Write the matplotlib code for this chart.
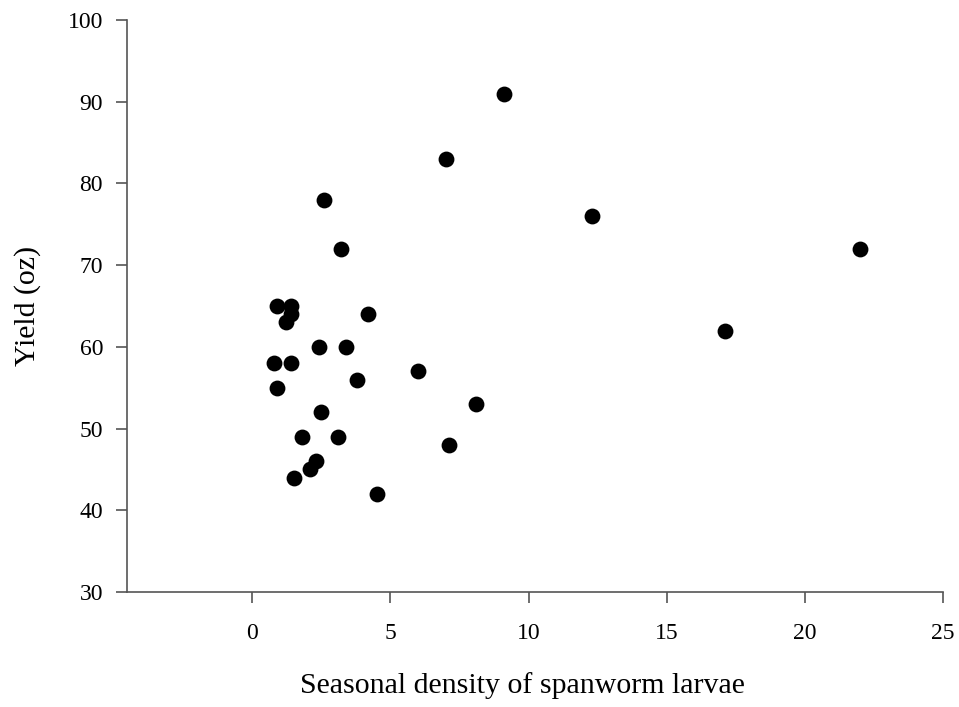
import numpy as np
import matplotlib.pyplot as plt

# spanworm larvae density vs yield
density = [0.9, 1.4, 1.4, 1.2, 4.2, 2.4, 3.4, 0.8, 1.4, 0.9, 3.8, 6.0,
           2.5, 1.8, 3.1, 2.3, 2.1, 1.5, 4.5, 9.1, 7.0, 8.1, 7.1,
           2.6, 3.2, 12.3, 17.1, 22.0]
yield_oz = [65, 65, 64, 63, 64, 60, 60, 58, 58, 55, 56, 57,
            52, 49, 49, 46, 45, 44, 42, 91, 83, 53, 48,
            78, 72, 76, 62, 72]

plt.rcParams['font.family'] = ['Liberation Serif', 'DejaVu Serif']

fig = plt.figure(figsize=(9.59, 7.07), dpi=100)
ax = fig.add_axes([0.1321, 0.1627, 0.8512, 0.809])

ax.scatter(density, yield_oz, s=130, color='black', zorder=3, linewidths=0)

ax.set_xlim(-4.55, 25)
ax.set_ylim(30, 100)
ax.set_xticks([0, 5, 10, 15, 20, 25])
ax.set_yticks(np.arange(30, 101, 10))

for side in ['top', 'right']:
    ax.spines[side].set_visible(False)
for side in ['left', 'bottom']:
    ax.spines[side].set_color('#555555')
    ax.spines[side].set_linewidth(1.2)

ax.tick_params(axis='both', direction='out', length=8, width=1.2,
               color='#555555', labelsize=17)
ax.tick_params(axis='x', pad=14)
ax.tick_params(axis='y', pad=9)

ax.set_xlabel('Seasonal density of spanworm larvae', fontsize=21.5)
ax.set_ylabel('Yield (oz)', fontsize=21.5)
ax.xaxis.set_label_coords(0.485, -0.14)
ax.yaxis.set_label_coords(-0.105, 0.5)

fig.savefig('out.png', dpi=100)
